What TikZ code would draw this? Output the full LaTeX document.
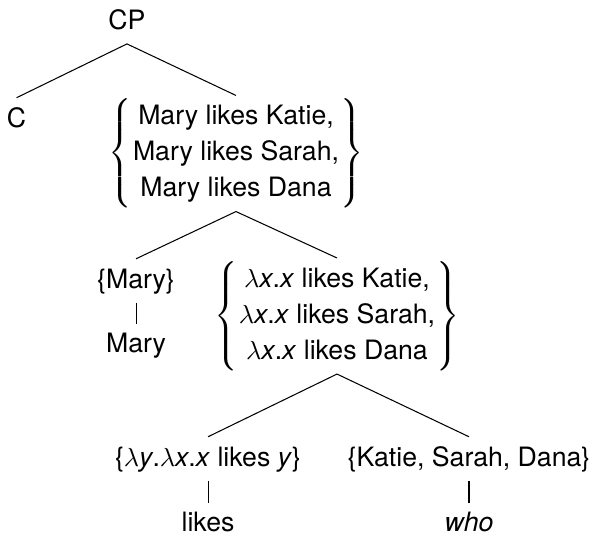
\documentclass[tikz,border=0pt]{standalone}
\usepackage{fontspec}
\setmainfont{TeX Gyre Heros}
\usepackage{tikz}
\newcommand{\altset}[1]{$\left\{\renewcommand{\arraystretch}{1.127}\begin{tabular}{@{\hspace{0.6pt}}c@{\hspace{0.6pt}}}#1\end{tabular}\right\}$}
\newcommand{\lx}{$\lambda$\textit{x}.\textit{x}}

\begin{document}
\begin{tikzpicture}[
      word/.style={anchor=base, font=\fontsize{10.2}{12.24}\selectfont, text height=8pt, text depth=2.5pt, inner sep=3pt},
      alts/.style={font=\fontsize{10.2}{12.24}\selectfont, inner sep=1pt},
      branch/.style={line width=0.4pt, color=black}
    ]
      \useasboundingbox (0,0) rectangle (8.0, 7.18);

      % Root
      \node[word] (cp) at (1.707, 6.79) {CP};
      \node[word] (c) at (0.222, 5.472) {C};
      \node[alts] (props) at (3.173, 5.116) {\altset{Mary likes Katie,\\Mary likes Sarah,\\Mary likes Dana}};

      % Subject and predicate
      \node[word] (subj) at (1.829, 3.307) {\{Mary\}};
      \node[word] (mary) at (1.829, 2.434) {Mary};
      \node[alts] (preds) at (4.531, 2.931) {\altset{\lx{} likes Katie,\\\lx{} likes Sarah,\\\lx{} likes Dana}};

      % Verb and wh-object
      \node[word] (verb) at (2.797, 0.914) {\{$\lambda$\textit{y}.$\lambda$\textit{x}.\textit{x} likes \textit{y}\}};
      \node[word] (obj) at (6.306, 0.914) {\{Katie, Sarah, Dana\}};
      \node[word] (likes) at (2.797, 0.03) {likes};
      \node[word] (who) at (6.306, 0.03) {\textit{who}};

      % Branches
      \draw[branch] (cp.south) -- (c.north);
      \draw[branch] (cp.south) -- (props.north);
      \draw[branch] (props.south) -- (subj.north);
      \draw[branch] (props.south) -- (preds.north);
      \draw[branch] (subj.south) -- (mary.north);
      \draw[branch] (preds.south) -- (verb.north);
      \draw[branch] (preds.south) -- (obj.north);
      \draw[branch] (verb.south) -- (likes.north);
      \draw[branch] (obj.south) -- (who.north);
    \end{tikzpicture}
\end{document}
